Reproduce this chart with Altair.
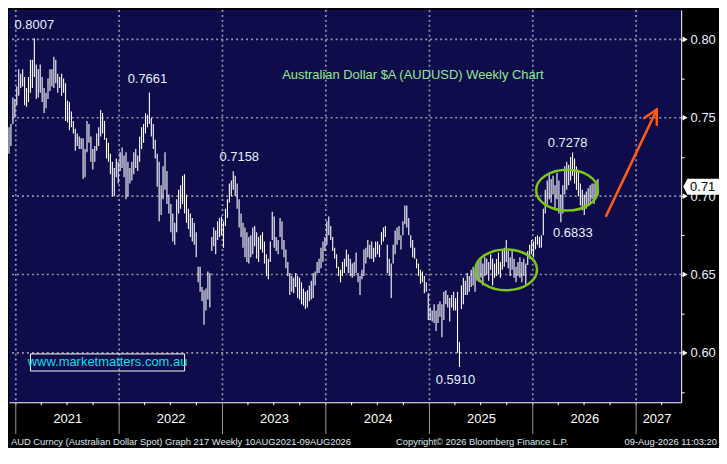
import altair as alt
import pandas as pd

# ---------------- data ----------------
HIGH = [
    0.744, 0.746, 0.763, 0.762, 0.770, 0.781, 0.778, 0.781, 0.776, 0.769,
    0.776, 0.787, 0.787, 0.8007, 0.784, 0.781, 0.784, 0.776, 0.769, 0.766,
    0.775, 0.781, 0.781, 0.789, 0.787, 0.778, 0.776, 0.778, 0.775, 0.772,
    0.761, 0.760, 0.754, 0.748, 0.743, 0.740, 0.738, 0.737, 0.737, 0.730,
    0.748, 0.746, 0.738, 0.730, 0.732, 0.740, 0.744, 0.755, 0.753, 0.748,
    0.737, 0.734, 0.727, 0.722, 0.718, 0.724, 0.722, 0.728, 0.731, 0.726,
    0.728, 0.722, 0.718, 0.722, 0.728, 0.730, 0.726, 0.738, 0.744, 0.746,
    0.753, 0.752, 0.7661, 0.750, 0.746, 0.736, 0.727, 0.722, 0.707, 0.719,
    0.728, 0.716, 0.701, 0.695, 0.689, 0.683, 0.698, 0.704, 0.707, 0.713,
    0.714, 0.701, 0.692, 0.689, 0.686, 0.683, 0.677, 0.655, 0.655, 0.642,
    0.640, 0.641, 0.652, 0.651, 0.674, 0.680, 0.678, 0.684, 0.686, 0.687,
    0.684, 0.692, 0.698, 0.708, 0.710, 0.7158, 0.713, 0.708, 0.698, 0.689,
    0.683, 0.680, 0.677, 0.674, 0.675, 0.680, 0.681, 0.677, 0.674, 0.675,
    0.677, 0.671, 0.663, 0.660, 0.671, 0.690, 0.687, 0.674, 0.672, 0.686,
    0.684, 0.672, 0.666, 0.658, 0.651, 0.649, 0.648, 0.651, 0.649, 0.648,
    0.645, 0.641, 0.639, 0.640, 0.643, 0.646, 0.651, 0.652, 0.658, 0.660,
    0.667, 0.671, 0.674, 0.684, 0.687, 0.681, 0.674, 0.667, 0.663, 0.655,
    0.653, 0.658, 0.660, 0.666, 0.663, 0.660, 0.657, 0.658, 0.664, 0.651,
    0.649, 0.653, 0.666, 0.667, 0.672, 0.669, 0.671, 0.667, 0.671, 0.671,
    0.669, 0.677, 0.680, 0.681, 0.669, 0.660, 0.657, 0.669, 0.678, 0.680,
    0.681, 0.675, 0.684, 0.694, 0.694, 0.686, 0.675, 0.672, 0.667, 0.660,
    0.657, 0.653, 0.652, 0.649, 0.645, 0.638, 0.629, 0.627, 0.631, 0.627,
    0.631, 0.633, 0.631, 0.639, 0.640, 0.637, 0.635, 0.637, 0.639, 0.635,
    0.639, 0.607, 0.643, 0.648, 0.646, 0.651, 0.649, 0.653, 0.655, 0.652,
    0.657, 0.658, 0.660, 0.657, 0.661, 0.660, 0.658, 0.663, 0.660, 0.657,
    0.660, 0.664, 0.658, 0.665, 0.667, 0.672, 0.665, 0.661, 0.665, 0.660,
    0.655, 0.658, 0.661, 0.658, 0.660, 0.657, 0.665, 0.669, 0.672, 0.671,
    0.674, 0.675, 0.674, 0.675, 0.692, 0.704, 0.710, 0.714, 0.711, 0.713,
    0.707, 0.715, 0.710, 0.701, 0.707, 0.719, 0.722, 0.720, 0.725, 0.7278,
    0.724, 0.719, 0.716, 0.708, 0.704, 0.701, 0.703, 0.705, 0.707, 0.708,
    0.708, 0.710, 0.711,
]
LOW = [
    0.727, 0.732, 0.746, 0.750, 0.758, 0.764, 0.769, 0.770, 0.758, 0.757,
    0.760, 0.766, 0.769, 0.776, 0.762, 0.763, 0.766, 0.760, 0.753, 0.756,
    0.762, 0.767, 0.770, 0.769, 0.772, 0.766, 0.769, 0.764, 0.766, 0.748,
    0.747, 0.742, 0.744, 0.740, 0.729, 0.732, 0.730, 0.730, 0.711, 0.712,
    0.728, 0.734, 0.722, 0.717, 0.722, 0.729, 0.732, 0.738, 0.740, 0.736,
    0.724, 0.722, 0.714, 0.700, 0.700, 0.712, 0.708, 0.716, 0.718, 0.712,
    0.698, 0.700, 0.708, 0.710, 0.714, 0.718, 0.716, 0.722, 0.730, 0.734,
    0.740, 0.744, 0.746, 0.738, 0.730, 0.724, 0.706, 0.684, 0.688, 0.698,
    0.704, 0.695, 0.689, 0.677, 0.671, 0.669, 0.677, 0.689, 0.692, 0.695,
    0.689, 0.683, 0.679, 0.674, 0.671, 0.669, 0.661, 0.645, 0.639, 0.633,
    0.618, 0.627, 0.634, 0.629, 0.665, 0.668, 0.663, 0.672, 0.674, 0.675,
    0.667, 0.681, 0.686, 0.696, 0.700, 0.704, 0.700, 0.692, 0.680, 0.674,
    0.667, 0.661, 0.658, 0.657, 0.661, 0.663, 0.668, 0.660, 0.658, 0.666,
    0.664, 0.657, 0.649, 0.647, 0.658, 0.672, 0.667, 0.665, 0.663, 0.674,
    0.666, 0.661, 0.654, 0.649, 0.637, 0.639, 0.638, 0.642, 0.635, 0.634,
    0.631, 0.630, 0.628, 0.629, 0.633, 0.634, 0.635, 0.643, 0.651, 0.651,
    0.654, 0.658, 0.665, 0.669, 0.675, 0.672, 0.665, 0.660, 0.654, 0.649,
    0.645, 0.649, 0.651, 0.655, 0.651, 0.649, 0.648, 0.649, 0.651, 0.645,
    0.637, 0.647, 0.649, 0.657, 0.661, 0.660, 0.660, 0.658, 0.661, 0.663,
    0.661, 0.669, 0.671, 0.674, 0.651, 0.649, 0.635, 0.657, 0.663, 0.669,
    0.672, 0.666, 0.675, 0.682, 0.680, 0.675, 0.667, 0.661, 0.660, 0.654,
    0.649, 0.644, 0.645, 0.638, 0.639, 0.621, 0.621, 0.620, 0.619, 0.614,
    0.619, 0.623, 0.610, 0.621, 0.631, 0.629, 0.620, 0.629, 0.627, 0.627,
    0.600, 0.591, 0.628, 0.631, 0.637, 0.637, 0.639, 0.642, 0.643, 0.639,
    0.646, 0.645, 0.648, 0.643, 0.649, 0.650, 0.646, 0.653, 0.643, 0.648,
    0.649, 0.650, 0.648, 0.653, 0.655, 0.658, 0.654, 0.649, 0.653, 0.648,
    0.645, 0.649, 0.648, 0.645, 0.649, 0.643, 0.656, 0.660, 0.663, 0.661,
    0.666, 0.669, 0.667, 0.667, 0.675, 0.689, 0.695, 0.698, 0.696, 0.701,
    0.692, 0.698, 0.689, 0.6833, 0.689, 0.701, 0.704, 0.707, 0.710, 0.713,
    0.708, 0.704, 0.700, 0.694, 0.691, 0.688, 0.692, 0.694, 0.696, 0.698,
    0.695, 0.700, 0.701,
]
FIRST_BAR = "2020-12-08"
LAST_BAR = "2026-08-19"

Y_MAJOR = [0.60, 0.65, 0.70, 0.75, 0.80]
Y_TICKS = [0.575, 0.60, 0.625, 0.65, 0.675, 0.70, 0.725, 0.75, 0.775, 0.80]
YEAR_BOUNDS = ["2021-01-01", "2022-01-01", "2023-01-01", "2024-01-01",
               "2025-01-01", "2026-01-01", "2027-01-01"]
YEAR_LABEL_AT = [(2021, 7, 2), (2022, 7, 2), (2023, 7, 2), (2024, 7, 2),
                 (2025, 7, 2), (2026, 7, 2), (2027, 3, 14)]
QUARTER_TICKS = [str(d.date()) for d in pd.date_range("2021-01-01", "2027-04-01", freq="QS")]

LAST_PRICE = 0.706
LAST_LABEL = "0.71"

# labelled extremes: (bar index, field, dx, dy)
EXTREMES = [(13, "high", 0, -13), (72, "high", -2, -14), (115, "high", 6, -14),
            (231, "low", -4, 13), (289, "high", -5, -10), (283, "low", 12, 11)]

ELLIPSE_DATE = ["2025-09-29", "2026-05-02"]
ELLIPSE_VALUE = [0.653, 0.7038]

ARROW_DATE = ["2026-09-17", "2027-03-15", "2027-01-29", "2027-03-15", "2027-03-15"]
ARROW_VALUE = [0.6874, 0.7552, 0.7498, 0.7552, 0.7455]
ARROW_PART = ["shaft", "shaft", "head", "head", "head"]
ARROW_ORDER = [0, 1, 0, 1, 2]

TITLE = "Australian Dollar $A (AUDUSD) Weekly Chart"
URL = "www.marketmatters.com.au"
FOOT_LEFT = "AUD Curncy (Australian Dollar Spot) Graph 217 Weekly 10AUG2021-09AUG2026"
FOOT_MID = "Copyright\u00a9 2026 Bloomberg Finance L.P."
FOOT_RIGHT = "09-Aug-2026 11:03:20"

# ---------------- layout / style ----------------
W, H = 675, 394
FONT = "Liberation Sans"
NAVY = "#0e0c4b"
GRID = "#9494a4"
XS = alt.Scale(domain=[alt.DateTime(year=2020, month=12, date=8),
                       alt.DateTime(year=2027, month=6, date=9)])
YS = alt.Scale(domain=[0.5685, 0.8188], nice=False, zero=False)

X_AX = alt.Axis(values=[alt.DateTime(year=y, month=m, date=d) for y, m, d in YEAR_LABEL_AT],
                format="%Y", ticks=False, grid=False, domainColor="white",
                domainWidth=1, labelColor="white", labelFontSize=13,
                labelFont=FONT, labelPadding=10, labelOverlap=False)
Y_AX = alt.Axis(orient="right", values=Y_TICKS, grid=False,
                labelExpr="round(datum.value*1000) % 50 == 0 ? format(datum.value, '.2f') : ''",
                tickSize=3, tickColor="white", domainColor="white", domainWidth=1,
                labelColor="#e6f0ff", labelFontSize=13, labelFont=FONT,
                labelPadding=6, labelOverlap=False)


def X(field):
    return alt.X(f"{field}:T", scale=XS, axis=X_AX, title=None)


def Y(field):
    return alt.Y(f"{field}:Q", scale=YS, axis=Y_AX, title=None)


bars_df = pd.DataFrame({
    "date": pd.date_range(FIRST_BAR, LAST_BAR, periods=len(HIGH)),
    "high": HIGH,
    "low": LOW,
})

grid_x = alt.Chart(pd.DataFrame({"date": pd.to_datetime(YEAR_BOUNDS)})).mark_rule(
    color=GRID, strokeDash=[2, 3], strokeWidth=1.7
).encode(x=X("date"))

grid_y = alt.Chart(pd.DataFrame({"v": Y_MAJOR})).mark_rule(
    color=GRID, strokeDash=[2, 3], strokeWidth=1.7
).encode(y=Y("v"))

bars = alt.Chart(bars_df).mark_rule(color="#ffffff", strokeWidth=1.1).encode(
    x=X("date"), y=Y("low"), y2="high:Q",
)

quarter_ticks = alt.Chart(pd.DataFrame({"date": pd.to_datetime(QUARTER_TICKS)})).mark_rule(
    color="white", strokeWidth=1
).encode(x=X("date"), y=alt.value(H), y2=alt.value(H + 3))

year_seps = alt.Chart(pd.DataFrame({"date": pd.to_datetime(YEAR_BOUNDS)})).mark_rule(
    color="#9a9a9a", strokeWidth=1
).encode(x=X("date"), y=alt.value(H), y2=alt.value(H + 32))

tri = alt.Chart(pd.DataFrame({"v": Y_MAJOR})).mark_point(
    shape="triangle-right", filled=True, color="white", size=32, opacity=1
).encode(x=alt.value(W + 4), y=Y("v"))

price_df = pd.DataFrame({"v": [LAST_PRICE], "t": [LAST_LABEL]})
price_box = alt.Chart(price_df).mark_point(
    shape="M-1,0 L-0.76,-0.45 L1,-0.45 L1,0.45 L-0.76,0.45 Z",
    filled=True, fill="white", size=1296, opacity=1, strokeWidth=0
).encode(x=alt.value(W + 20), y=Y("v"))
price_txt = alt.Chart(price_df).mark_text(
    align="left", baseline="middle", color="black", fontSize=13, font=FONT
).encode(x=alt.value(W + 9), y=Y("v"), text="t:N")

ext_layers = []
for idx, field, dx, dy in EXTREMES:
    row = bars_df.iloc[[idx]]
    ext_layers.append(
        alt.Chart(row).mark_text(color="#e6f2ff", fontSize=13, font=FONT, dx=dx, dy=dy,
                                 baseline="middle", align="center").encode(
            x=X("date"), y=Y(field),
            text=alt.Text(f"{field}:Q", format=".4f"),
        )
    )

ell = alt.Chart(pd.DataFrame({"date": pd.to_datetime(ELLIPSE_DATE), "v": ELLIPSE_VALUE})).mark_point(
    shape="M-1,0 A1,0.66 0 1,1 1,0 A1,0.66 0 1,1 -1,0 Z",
    filled=False, stroke="#7cc61a", strokeWidth=2.5, size=3850, opacity=1
).encode(x=X("date"), y=Y("v"))

arrow = alt.Chart(pd.DataFrame({"date": pd.to_datetime(ARROW_DATE), "v": ARROW_VALUE,
                                "part": ARROW_PART, "o": ARROW_ORDER})).mark_line(
    color="#ff5a14", strokeWidth=2.5, strokeCap="round", strokeJoin="miter"
).encode(x=X("date"), y=Y("v"), detail="part:N", order="o:Q")

title = alt.Chart(pd.DataFrame({"t": [TITLE]})).mark_text(
    color="#92e892", fontSize=13, font=FONT, align="center", baseline="middle"
).encode(x=alt.value(W * 414 / 689), y=alt.value(H * 69 / 414), text="t:N")

url_box = alt.Chart(pd.DataFrame({"t": [URL]})).mark_rect(
    fillOpacity=0, stroke="white", strokeWidth=1
).encode(x=alt.value(W * 22 / 689), x2=alt.value(W * 180 / 689),
         y=alt.value(H * 363 / 414), y2=alt.value(H * 381 / 414))
url_txt = alt.Chart(pd.DataFrame({"t": [URL]})).mark_text(
    color="#14dde6", fontSize=13, font=FONT, align="center", baseline="middle"
).encode(x=alt.value(W * 101 / 689), y=alt.value(H * 372 / 414), text="t:N")

foot_l = alt.Chart(pd.DataFrame({"t": [FOOT_LEFT]})).mark_text(
    color="#dfe8f0", fontSize=9.4, font=FONT, align="left", baseline="alphabetic"
).encode(x=alt.value(2), y=alt.value(H + 43), text="t:N")
foot_m = alt.Chart(pd.DataFrame({"t": [FOOT_MID]})).mark_text(
    color="#dfe8f0", fontSize=9.4, font=FONT, align="center", baseline="alphabetic"
).encode(x=alt.value(W * 485 / 689), y=alt.value(H + 43), text="t:N")
foot_r = alt.Chart(pd.DataFrame({"t": [FOOT_RIGHT]})).mark_text(
    color="#dfe8f0", fontSize=9.4, font=FONT, align="right", baseline="alphabetic"
).encode(x=alt.value(W + 36), y=alt.value(H + 43), text="t:N")

chart = alt.layer(
    grid_x, grid_y, bars, quarter_ticks, year_seps, tri, ell, arrow, title,
    url_box, url_txt, *ext_layers, price_box, price_txt, foot_l, foot_m, foot_r
).properties(
    width=W, height=H, padding={"left": 0, "top": 0, "right": 0, "bottom": 0}
).configure(
    font=FONT, background="#000000"
).configure_view(fill=NAVY, strokeWidth=0)

chart.save("out.html", embed_options={"renderer": "svg", "actions": False})
